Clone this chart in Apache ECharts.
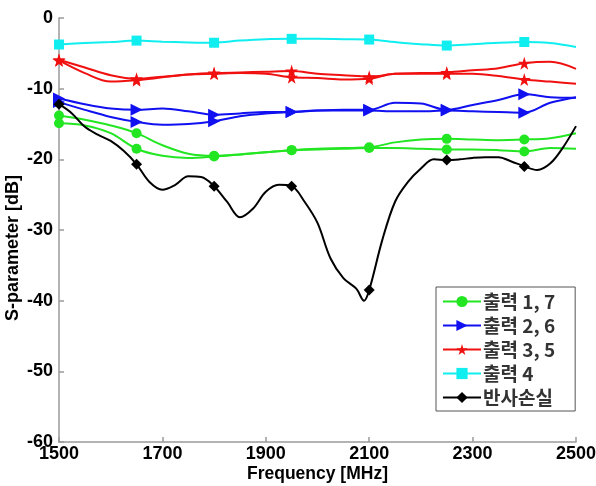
<!DOCTYPE html>
<html>
<head>
<meta charset="utf-8">
<script src="https://cdn.jsdelivr.net/npm/echarts@6/dist/echarts.min.js"></script>
<style>
html,body{margin:0;padding:0;background:#fff;}
#c{width:596px;height:486px;}
</style>
</head>
<body>
<div id="c"></div>
<script>
// ---- data ----
const freq = [1500,1550,1600,1650,1700,1750,1800,1850,1900,1950,2000,2050,2100,2150,2200,2250,2300,2350,2400,2450,2500];
const markerFreqs = [1500,1650,1800,1950,2100,2250,2400];

const out17a = [-13.8,-14.4,-15.2,-16.3,-18.0,-19.2,-19.5,-19.3,-19.0,-18.7,-18.5,-18.4,-18.3,-17.6,-17.2,-17.1,-17.2,-17.3,-17.2,-17.0,-16.3];
const out17b = [-14.9,-15.2,-16.3,-18.5,-19.5,-19.8,-19.6,-19.3,-19.0,-18.7,-18.6,-18.5,-18.4,-18.4,-18.5,-18.6,-18.6,-18.7,-18.9,-18.4,-18.5];

const out26a = [-11.4,-12.2,-12.8,-13.0,-12.8,-13.2,-13.7,-13.5,-13.3,-13.3,-13.1,-13.0,-13.0,-12.0,-12.1,-13.0,-12.3,-11.6,-10.8,-11.2,-11.3];
const out26b = [-11.9,-13.0,-14.0,-14.7,-15.1,-15.0,-14.6,-13.9,-13.5,-13.3,-13.1,-13.1,-13.1,-13.2,-13.2,-13.1,-13.2,-13.3,-13.4,-12.0,-11.2];

const out35a = [-5.9,-7.0,-8.1,-8.6,-8.3,-8.0,-7.8,-7.7,-7.6,-7.5,-7.9,-8.1,-8.3,-7.9,-7.8,-7.7,-7.4,-7.1,-6.4,-6.2,-7.2];
const out35b = [-6.0,-7.8,-9.0,-8.8,-8.4,-8.0,-7.9,-7.8,-7.9,-8.4,-8.5,-8.7,-8.6,-7.9,-7.9,-7.9,-7.9,-8.2,-8.7,-9.0,-9.3];

const out4 = [-3.75,-3.55,-3.4,-3.2,-3.35,-3.45,-3.5,-3.2,-3.0,-2.95,-2.95,-3.0,-3.05,-3.4,-3.7,-3.9,-3.7,-3.5,-3.4,-3.55,-4.1];

const freqRL = [1500,1525,1550,1575,1600,1625,1650,1675,1700,1725,1750,1775,1800,1825,1850,1875,1900,1925,1950,1975,2000,2025,2050,2075,2090,2100,2125,2150,2175,2200,2225,2250,2275,2300,2325,2350,2375,2400,2425,2450,2475,2500];
const returnLoss = [-12.2,-13.5,-15.4,-16.5,-17.4,-18.8,-20.7,-23.2,-24.3,-23.6,-22.4,-22.5,-23.8,-26.0,-28.2,-27.0,-24.6,-23.6,-23.8,-26.0,-29.0,-34.0,-36.8,-38.3,-40.0,-38.5,-31.5,-26.0,-23.2,-21.3,-20.0,-20.1,-20.0,-19.8,-19.7,-19.7,-20.3,-21.0,-21.5,-20.6,-18.3,-15.3];

const legendNames = ['출력 1, 7','출력 2, 6','출력 3, 5','출력 4','반사손실'];
const xTicks = {min:1500, max:2500, step:200};
const yTicks = {min:-60, max:0, step:10};

// ---- chart ----
const STAR = 'path://M50,0 L61,35 L98,35 L68,57 L79,91 L50,70 L21,91 L32,57 L2,35 L39,35 Z';
const TRI_R = 'path://M0,0 L10,5 L0,10 Z';

function mk(name, xs, ys, color, symbol, size) {
  return {
    name: name,
    type: 'line',
    data: xs.map((x, i) => [x, ys[i]]),
    smooth: 0.35,
    symbol: symbol,
    symbolSize: (v) => markerFreqs.indexOf(v[0]) >= 0 ? size : 0,
    showAllSymbol: true,
    lineStyle: { color: color, width: 2 },
    itemStyle: { color: color, borderWidth: 0 },
    emphasis: { disabled: true },
    animation: false,
    z: 2
  };
}

const GREEN = '#22e622', BLUE = '#1010f0', RED = '#f01010', CYAN = '#10eef0', BLACK = '#000';

const series = [
  mk(legendNames[0], freq, out17a, GREEN, 'circle', 10),
  mk(legendNames[0], freq, out17b, GREEN, 'circle', 10),
  mk(legendNames[1], freq, out26a, BLUE, TRI_R, 12),
  mk(legendNames[1], freq, out26b, BLUE, TRI_R, 12),
  mk(legendNames[2], freq, out35a, RED, STAR, 13),
  mk(legendNames[2], freq, out35b, RED, STAR, 13),
  mk(legendNames[3], freq, out4, CYAN, 'rect', 10),
  mk(legendNames[4], freqRL, returnLoss, BLACK, 'diamond', 11)
];

const labelFont = { color: '#000', fontWeight: 'bold', fontSize: 18, fontFamily: 'Liberation Sans, Arial, sans-serif' };
const axisLineStyle = { color: '#9a9a9a', width: 1.5 };

const chart = echarts.init(document.getElementById('c'), null, { renderer: 'canvas' });
chart.setOption({
  animation: false,
  backgroundColor: '#fff',
  grid: { left: 59, right: 20, top: 18, bottom: 44, containLabel: false, outerBoundsMode: 'none' },
  xAxis: {
    type: 'value', min: xTicks.min, max: xTicks.max, interval: xTicks.step,
    name: 'Frequency [MHz]', nameLocation: 'middle', nameGap: 23, nameMoveOverlap: false,
    nameTextStyle: Object.assign({}, labelFont, { fontSize: 17.5 }),
    axisLine: { show: true, onZero: false, lineStyle: axisLineStyle },
    axisTick: { show: true, inside: true, length: 5, lineStyle: axisLineStyle },
    axisLabel: Object.assign({ margin: 3, formatter: (v) => String(v) }, labelFont),
    splitLine: { show: false }
  },
  yAxis: {
    type: 'value', min: yTicks.min, max: yTicks.max, interval: yTicks.step,
    name: 'S-parameter [dB]', nameLocation: 'middle', nameGap: 37, nameMoveOverlap: false,
    nameTextStyle: Object.assign({}, labelFont, { fontSize: 18, padding: [0, 36, 0, 0] }),
    axisLine: { show: true, onZero: false, lineStyle: axisLineStyle },
    axisTick: { show: true, inside: true, length: 5, lineStyle: axisLineStyle },
    axisLabel: Object.assign({ margin: 6, formatter: (v) => String(v) }, labelFont),
    splitLine: { show: false }
  },
  legend: {
    data: legendNames,
    orient: 'vertical',
    left: 436, top: 287,
    width: 138,
    padding: [5, 20, 4, 6],
    itemGap: 5,
    itemWidth: 38, itemHeight: 14,
    borderColor: '#555', borderWidth: 1,
    backgroundColor: '#fff',
    textStyle: { color: '#333', fontWeight: 'bold', fontSize: 19, fontFamily: 'Noto Sans CJK KR, sans-serif', padding: [0,0,0,-3] },
    selectedMode: false
  },
  series: series
});
</script>
</body>
</html>
